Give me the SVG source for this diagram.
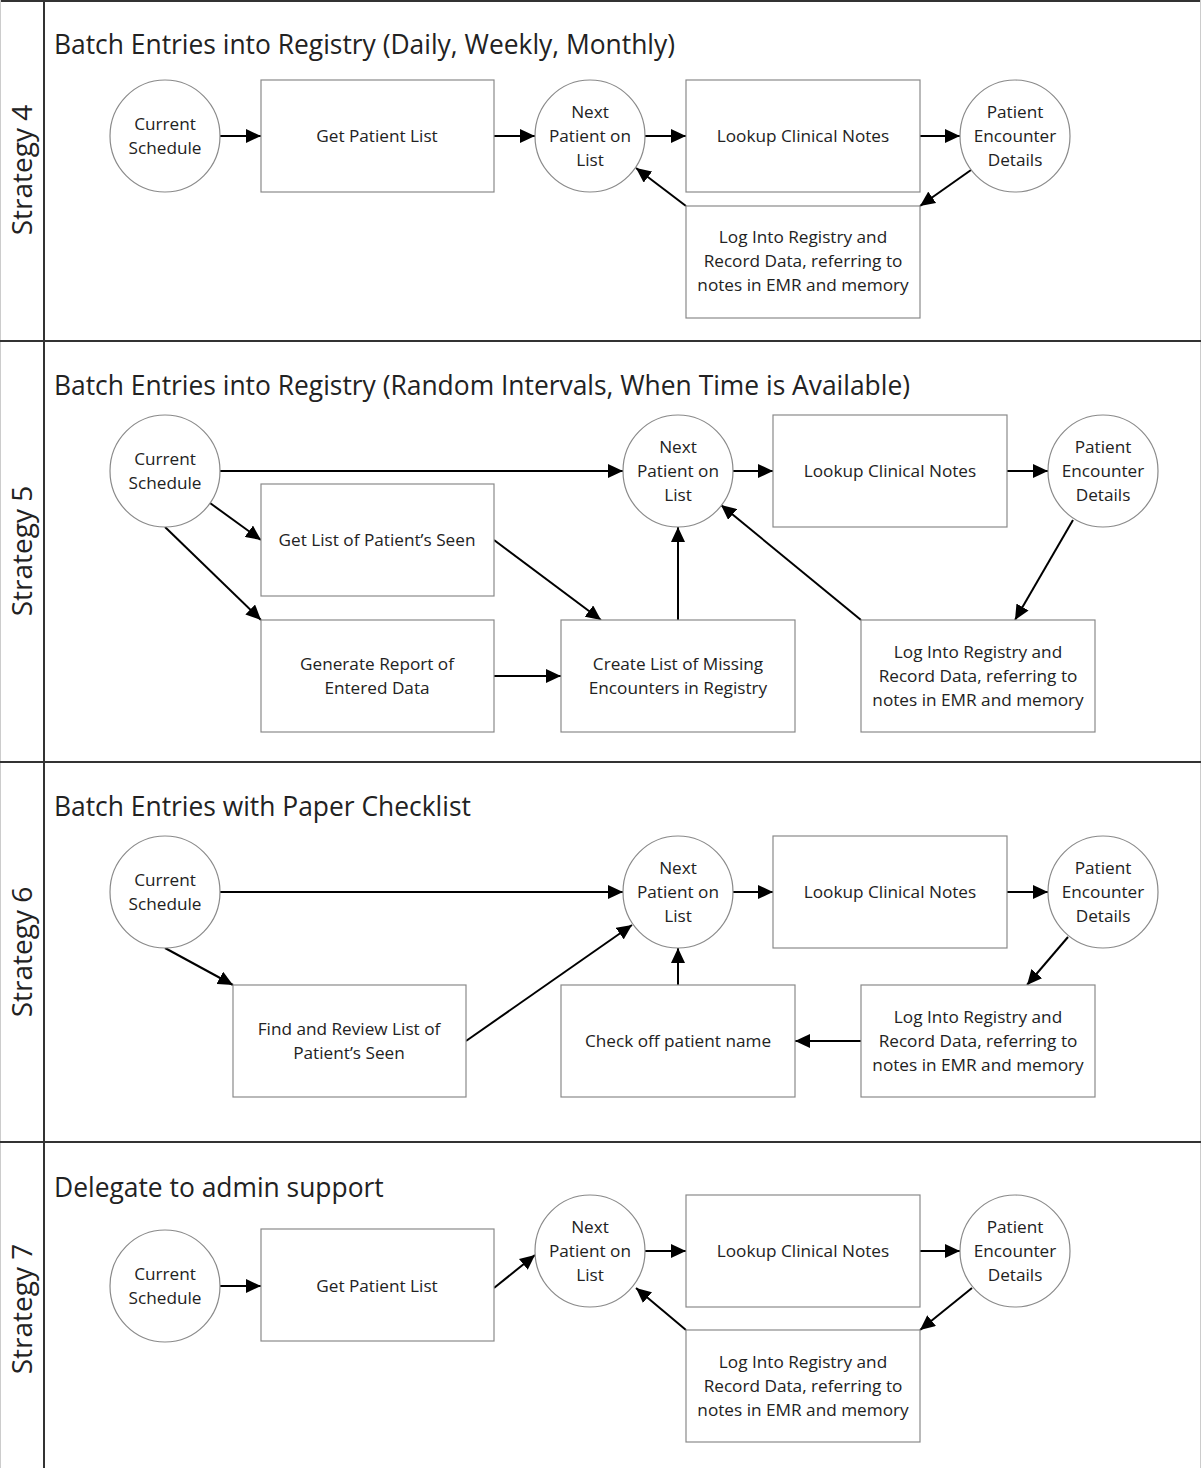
<svg xmlns="http://www.w3.org/2000/svg" width="1201" height="1468" viewBox="0 0 1201 1468">
  <defs>
    <marker id="arrow" markerUnits="userSpaceOnUse" markerWidth="16" markerHeight="14" refX="15" refY="7" orient="auto">
      <path d="M0,0 L15,7 L0,14 z" fill="#000"/>
    </marker>
    <style>
      .box { fill: #fff; stroke: #8a8a8a; stroke-width: 1.2; }
      .lane { fill: none; stroke: #333; stroke-width: 2; }
      .edge { fill: none; stroke: #000; stroke-width: 2; marker-end: url(#arrow); }
      .t { font-family: "Open Sans", "Liberation Sans", sans-serif; font-size: 17.2px; fill: #222; text-anchor: middle; }
      .title { font-family: "Open Sans", "Liberation Sans", sans-serif; font-size: 26.4px; fill: #222; }
      .lbl { font-family: "Open Sans", "Liberation Sans", sans-serif; font-size: 28px; fill: #222; text-anchor: middle; }
    </style>
  </defs>
  <rect x="0" y="0" width="1201" height="1468" fill="#fff"/>

  <!-- swimlane frame -->
  <g id="lanes">
    <line class="lane" x1="0" y1="1" x2="1201" y2="1"/>
    <line x1="0.5" y1="0" x2="0.5" y2="1468" stroke="#ccc" stroke-width="1"/>
    <line x1="1200.5" y1="0" x2="1200.5" y2="1468" stroke="#ccc" stroke-width="1"/>
    <line class="lane" x1="44" y1="0" x2="44" y2="1468"/>
    <line class="lane" x1="0" y1="341" x2="1201" y2="341"/>
    <line class="lane" x1="0" y1="762" x2="1201" y2="762"/>
    <line class="lane" x1="0" y1="1142" x2="1201" y2="1142"/>
    <text class="lbl" transform="translate(32,170) rotate(-90)">Strategy 4</text>
    <text class="lbl" transform="translate(32,551) rotate(-90)">Strategy 5</text>
    <text class="lbl" transform="translate(32,952) rotate(-90)">Strategy 6</text>
    <text class="lbl" transform="translate(32,1309) rotate(-90)">Strategy 7</text>
    <text class="title" x="54" y="54">Batch Entries into Registry (Daily, Weekly, Monthly)</text>
    <text class="title" x="54" y="395">Batch Entries into Registry (Random Intervals, When Time is Available)</text>
    <text class="title" x="54" y="816">Batch Entries with Paper Checklist</text>
    <text class="title" x="54" y="1197">Delegate to admin support</text>
  </g>

  <!-- connectors -->
  <g id="connectors">
    <!-- strategy 4 -->
    <line class="edge" x1="220" y1="136" x2="261" y2="136"/>
    <line class="edge" x1="494" y1="136" x2="535" y2="136"/>
    <line class="edge" x1="645" y1="136" x2="686" y2="136"/>
    <line class="edge" x1="920" y1="136" x2="960" y2="136"/>
    <line class="edge" x1="971" y1="170" x2="920" y2="206"/>
    <line class="edge" x1="686" y1="206" x2="636" y2="168"/>
    <!-- strategy 5 -->
    <line class="edge" x1="220" y1="471" x2="623" y2="471"/>
    <line class="edge" x1="733" y1="471" x2="773" y2="471"/>
    <line class="edge" x1="1007" y1="471" x2="1048" y2="471"/>
    <line class="edge" x1="210" y1="503" x2="261" y2="540"/>
    <line class="edge" x1="165" y1="527" x2="261" y2="620"/>
    <line class="edge" x1="494" y1="540" x2="601" y2="620"/>
    <line class="edge" x1="494" y1="676" x2="561" y2="676"/>
    <line class="edge" x1="678" y1="620" x2="678" y2="527"/>
    <line class="edge" x1="861" y1="620" x2="721" y2="505"/>
    <line class="edge" x1="1073" y1="520" x2="1015" y2="620"/>
    <!-- strategy 6 -->
    <line class="edge" x1="220" y1="892" x2="623" y2="892"/>
    <line class="edge" x1="733" y1="892" x2="773" y2="892"/>
    <line class="edge" x1="1007" y1="892" x2="1048" y2="892"/>
    <line class="edge" x1="165" y1="948" x2="233" y2="985"/>
    <line class="edge" x1="466" y1="1041" x2="632" y2="925"/>
    <line class="edge" x1="678" y1="985" x2="678" y2="948"/>
    <line class="edge" x1="861" y1="1041" x2="795" y2="1041"/>
    <line class="edge" x1="1068" y1="937" x2="1027" y2="985"/>
    <!-- strategy 7 -->
    <line class="edge" x1="220" y1="1286" x2="261" y2="1286"/>
    <line class="edge" x1="494" y1="1288" x2="535" y2="1255"/>
    <line class="edge" x1="645" y1="1251" x2="686" y2="1251"/>
    <line class="edge" x1="920" y1="1251" x2="960" y2="1251"/>
    <line class="edge" x1="972" y1="1288" x2="920" y2="1330"/>
    <line class="edge" x1="686" y1="1330" x2="636" y2="1288"/>
  </g>

  <!-- strategy 4 nodes -->
  <g id="s4-current-schedule">
    <ellipse class="box" cx="165" cy="136" rx="55" ry="56"/>
    <text class="t" x="165" y="130">Current</text>
    <text class="t" x="165" y="154">Schedule</text>
  </g>
  <g id="s4-get-patient-list">
    <rect class="box" x="261" y="80" width="233" height="112"/>
    <text class="t" x="377" y="142">Get Patient List</text>
  </g>
  <g id="s4-next-patient">
    <ellipse class="box" cx="590" cy="136" rx="55" ry="56"/>
    <text class="t" x="590" y="118">Next</text>
    <text class="t" x="590" y="142">Patient on</text>
    <text class="t" x="590" y="166">List</text>
  </g>
  <g id="s4-lookup-notes">
    <rect class="box" x="686" y="80" width="234" height="112"/>
    <text class="t" x="803" y="142">Lookup Clinical Notes</text>
  </g>
  <g id="s4-encounter-details">
    <ellipse class="box" cx="1015" cy="136" rx="55" ry="56"/>
    <text class="t" x="1015" y="118">Patient</text>
    <text class="t" x="1015" y="142">Encounter</text>
    <text class="t" x="1015" y="166">Details</text>
  </g>
  <g id="s4-log-registry">
    <rect class="box" x="686" y="206" width="234" height="112"/>
    <text class="t" x="803" y="243">Log Into Registry and</text>
    <text class="t" x="803" y="267">Record Data, referring to</text>
    <text class="t" x="803" y="291">notes in EMR and memory</text>
  </g>

  <!-- strategy 5 nodes -->
  <g id="s5-current-schedule">
    <ellipse class="box" cx="165" cy="471" rx="55" ry="56"/>
    <text class="t" x="165" y="465">Current</text>
    <text class="t" x="165" y="489">Schedule</text>
  </g>
  <g id="s5-next-patient">
    <ellipse class="box" cx="678" cy="471" rx="55" ry="56"/>
    <text class="t" x="678" y="453">Next</text>
    <text class="t" x="678" y="477">Patient on</text>
    <text class="t" x="678" y="501">List</text>
  </g>
  <g id="s5-lookup-notes">
    <rect class="box" x="773" y="415" width="234" height="112"/>
    <text class="t" x="890" y="477">Lookup Clinical Notes</text>
  </g>
  <g id="s5-encounter-details">
    <ellipse class="box" cx="1103" cy="471" rx="55" ry="56"/>
    <text class="t" x="1103" y="453">Patient</text>
    <text class="t" x="1103" y="477">Encounter</text>
    <text class="t" x="1103" y="501">Details</text>
  </g>
  <g id="s5-patients-seen">
    <rect class="box" x="261" y="484" width="233" height="112"/>
    <text class="t" x="377" y="546">Get List of Patient’s Seen</text>
  </g>
  <g id="s5-report">
    <rect class="box" x="261" y="620" width="233" height="112"/>
    <text class="t" x="377" y="670">Generate Report of</text>
    <text class="t" x="377" y="694">Entered Data</text>
  </g>
  <g id="s5-missing-list">
    <rect class="box" x="561" y="620" width="234" height="112"/>
    <text class="t" x="678" y="670">Create List of Missing</text>
    <text class="t" x="678" y="694">Encounters in Registry</text>
  </g>
  <g id="s5-log-registry">
    <rect class="box" x="861" y="620" width="234" height="112"/>
    <text class="t" x="978" y="658">Log Into Registry and</text>
    <text class="t" x="978" y="682">Record Data, referring to</text>
    <text class="t" x="978" y="706">notes in EMR and memory</text>
  </g>

  <!-- strategy 6 nodes -->
  <g id="s6-current-schedule">
    <ellipse class="box" cx="165" cy="892" rx="55" ry="56"/>
    <text class="t" x="165" y="886">Current</text>
    <text class="t" x="165" y="910">Schedule</text>
  </g>
  <g id="s6-next-patient">
    <ellipse class="box" cx="678" cy="892" rx="55" ry="56"/>
    <text class="t" x="678" y="874">Next</text>
    <text class="t" x="678" y="898">Patient on</text>
    <text class="t" x="678" y="922">List</text>
  </g>
  <g id="s6-lookup-notes">
    <rect class="box" x="773" y="836" width="234" height="112"/>
    <text class="t" x="890" y="898">Lookup Clinical Notes</text>
  </g>
  <g id="s6-encounter-details">
    <ellipse class="box" cx="1103" cy="892" rx="55" ry="56"/>
    <text class="t" x="1103" y="874">Patient</text>
    <text class="t" x="1103" y="898">Encounter</text>
    <text class="t" x="1103" y="922">Details</text>
  </g>
  <g id="s6-review-list">
    <rect class="box" x="233" y="985" width="233" height="112"/>
    <text class="t" x="349" y="1035">Find and Review List of</text>
    <text class="t" x="349" y="1059">Patient’s Seen</text>
  </g>
  <g id="s6-check-off">
    <rect class="box" x="561" y="985" width="234" height="112"/>
    <text class="t" x="678" y="1047">Check off patient name</text>
  </g>
  <g id="s6-log-registry">
    <rect class="box" x="861" y="985" width="234" height="112"/>
    <text class="t" x="978" y="1023">Log Into Registry and</text>
    <text class="t" x="978" y="1047">Record Data, referring to</text>
    <text class="t" x="978" y="1071">notes in EMR and memory</text>
  </g>

  <!-- strategy 7 nodes -->
  <g id="s7-current-schedule">
    <ellipse class="box" cx="165" cy="1286" rx="55" ry="56"/>
    <text class="t" x="165" y="1280">Current</text>
    <text class="t" x="165" y="1304">Schedule</text>
  </g>
  <g id="s7-get-patient-list">
    <rect class="box" x="261" y="1229" width="233" height="112"/>
    <text class="t" x="377" y="1292">Get Patient List</text>
  </g>
  <g id="s7-next-patient">
    <ellipse class="box" cx="590" cy="1251" rx="55" ry="56"/>
    <text class="t" x="590" y="1233">Next</text>
    <text class="t" x="590" y="1257">Patient on</text>
    <text class="t" x="590" y="1281">List</text>
  </g>
  <g id="s7-lookup-notes">
    <rect class="box" x="686" y="1195" width="234" height="112"/>
    <text class="t" x="803" y="1257">Lookup Clinical Notes</text>
  </g>
  <g id="s7-encounter-details">
    <ellipse class="box" cx="1015" cy="1251" rx="55" ry="56"/>
    <text class="t" x="1015" y="1233">Patient</text>
    <text class="t" x="1015" y="1257">Encounter</text>
    <text class="t" x="1015" y="1281">Details</text>
  </g>
  <g id="s7-log-registry">
    <rect class="box" x="686" y="1330" width="234" height="112"/>
    <text class="t" x="803" y="1368">Log Into Registry and</text>
    <text class="t" x="803" y="1392">Record Data, referring to</text>
    <text class="t" x="803" y="1416">notes in EMR and memory</text>
  </g>
</svg>
